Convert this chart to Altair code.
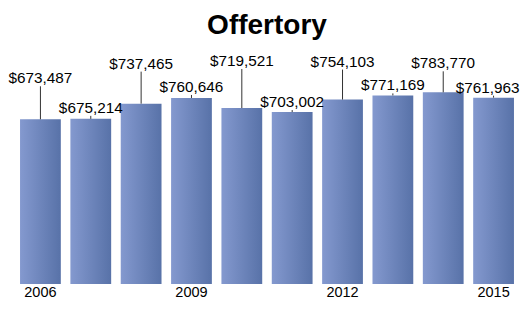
import altair as alt
import pandas as pd

years = ["2006", "2007", "2008", "2009", "2010", "2011", "2012", "2013", "2014", "2015"]
offertory = [673487, 675214, 737465, 760646, 719521, 703002, 754103, 771169, 783770, 761963]
# label placement above each bar (pixels between bar top and label centre)
label_lift_px = [41, 11, 40, 11, 47, 10, 38, 10, 29, 10]
axis_years = ["2006", "2009", "2012", "2015"]

H = 234
W = 504
YMAX = 956800
K = YMAX / H  # data units per pixel

df = pd.DataFrame({"year": years, "value": offertory, "lift": label_lift_px})
df["label"] = ["$" + f"{v:,}" for v in offertory]

FONT = "Liberation Sans"

x = alt.X("year:O", title=None,
          scale=alt.Scale(paddingInner=0.19, paddingOuter=0.1),
          axis=alt.Axis(values=axis_years, labelAngle=0, domain=False, ticks=False,
                        labelFontSize=14.5, labelFont=FONT, labelColor="#000000",
                        labelPadding=1.5))
yscale = alt.Scale(domain=[0, YMAX])

base = alt.Chart(df).transform_calculate(
    label_y=f"datum.value + datum.lift * {K}",
    rule_end=f"datum.value + max(datum.lift - 8, 0) * {K}",
)

bars = base.mark_bar(
    color=alt.Gradient(
        gradient="linear",
        stops=[alt.GradientStop(color="#8499CF", offset=0),
               alt.GradientStop(color="#5872A8", offset=1)],
        x1=0, x2=1, y1=0, y2=0,
    )
).encode(
    x=x,
    y=alt.Y("value:Q", scale=yscale, axis=None),
)

rules = base.mark_rule(color="#333333", strokeWidth=1).encode(
    x=x,
    y=alt.Y("value:Q", scale=yscale, axis=None),
    y2="rule_end:Q",
)

text_enc = dict(
    x=x,
    y=alt.Y("label_y:Q", scale=yscale, axis=None),
    text="label:N",
)
labels = base.transform_filter("datum.year != '2015'").mark_text(
    fontSize=15.3, font=FONT, color="#000000", baseline="middle"
).encode(**text_enc)
edge_label = base.transform_filter("datum.year == '2015'").mark_text(
    fontSize=15.3, font=FONT, color="#000000", baseline="middle", dx=-6
).encode(**text_enc)

chart = (bars + rules + labels + edge_label).properties(
    width=W, height=H,
    autosize=alt.AutoSizeParams(type="none"),
    padding={"left": 7, "top": 42, "right": 3, "bottom": 18},
    title=alt.TitleParams("Offertory", fontSize=28, font=FONT, fontWeight="bold",
                          anchor="middle", frame="group",
                          offset=10, color="#000000"),
).configure_view(stroke=None)

chart.save("out.html", embed_options={"renderer": "svg", "actions": False})
